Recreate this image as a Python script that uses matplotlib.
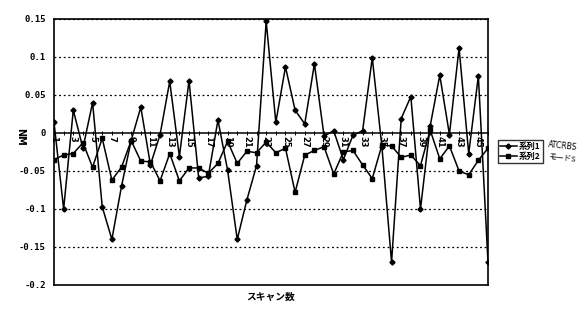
import numpy as np
import matplotlib
matplotlib.use("Agg")
from matplotlib import pyplot as plt

plt.rcParams["font.family"] = ["DejaVu Sans", "Noto Sans CJK JP"]

# scan number 1..46, values in NM
scans = list(range(1, 47))
series1 = [0.014, -0.1, 0.03, -0.02, 0.04, -0.097, -0.14, -0.07, -0.01, 0.034,
           -0.042, -0.002, 0.068, -0.031, 0.069, -0.059, -0.057, 0.017, -0.049, -0.14,
           -0.088, -0.043, 0.147, 0.014, 0.087, 0.03, 0.012, 0.091, -0.004, 0.003,
           -0.035, -0.003, 0.003, 0.099, -0.018, -0.17, 0.019, 0.048, -0.1, 0.009,
           0.076, -0.002, 0.112, -0.027, 0.075, -0.17]
series2 = [-0.035, -0.029, -0.027, -0.013, -0.045, -0.007, -0.062, -0.045, -0.01, -0.037,
           -0.038, -0.063, -0.027, -0.063, -0.046, -0.046, -0.053, -0.04, -0.011, -0.04,
           -0.024, -0.026, -0.012, -0.026, -0.02, -0.078, -0.029, -0.023, -0.018, -0.054,
           -0.025, -0.023, -0.042, -0.06, -0.016, -0.017, -0.032, -0.029, -0.043, 0.004,
           -0.034, -0.017, -0.05, -0.055, -0.036, -0.02]
yticks = [0.15, 0.1, 0.05, 0, -0.05, -0.1, -0.15, -0.2]
ytick_labels = ["0.15", "0.1", "0.05", "0", "-0.05", "-0.1", "-0.15", "-0.2"]
xtick_labels = scans[::2]

fig = plt.figure(figsize=(5.84, 3.10), dpi=100)
ax = fig.add_axes([54 / 584, 25 / 310, 434 / 584, 266 / 310])

# dotted grid every 0.05, solid zero line
for y in yticks:
    if y != 0:
        ax.axhline(y, color="black", lw=0.9, ls=(0, (1.5, 2.2)), zorder=1)
ax.axhline(0, color="black", lw=1.1, zorder=2)
ax.plot(scans, [0] * len(scans), ls="none", marker="|", ms=3, mew=0.7, color="black", zorder=2)

ax.plot(scans, series1, "-", color="black", lw=1.1, marker="D", ms=2.6, label="系列1", zorder=3)
ax.plot(scans, series2, "-", color="black", lw=1.1, marker="s", ms=2.8, label="系列2", zorder=3)

# category labels sit on the zero line, rotated
for x in xtick_labels:
    ax.text(x, -0.004, str(x), rotation=-90, ha="center", va="top",
            fontsize=6, fontweight="bold", zorder=4)

ax.set_xlim(1, 46)
ax.set_ylim(-0.2, 0.15)
ax.set_xticks([])
ax.set_yticks(yticks)
ax.set_yticklabels(ytick_labels, fontsize=6.5, fontweight="bold", family="DejaVu Sans Mono")
ax.tick_params(axis="y", length=0, pad=6)
for s in ax.spines.values():
    s.set_linewidth(1.2)

fig.text(20 / 584, 1 - 137 / 310, "NM", rotation=-90, ha="center", va="center",
         fontsize=7, fontweight="bold")
fig.text(271 / 584, 1 - 297 / 310, "スキャン数", ha="center", va="center",
         fontsize=7, fontweight="bold", family=["Noto Sans CJK JP"])

leg = ax.legend(loc="center left", bbox_to_anchor=(498 / 584, 1 - 151.5 / 310),
                bbox_transform=fig.transFigure, fontsize=6, frameon=True, fancybox=False,
                edgecolor="black", handlelength=2.0, handletextpad=0.3,
                borderpad=0.25, labelspacing=0.2, borderaxespad=0,
                prop={"family": ["Noto Sans CJK JP"], "size": 6, "weight": "bold"})
leg.get_frame().set_linewidth(1.0)

# handwritten annotations next to the legend
fig.text(548 / 584, 1 - 146 / 310, "ATCRBS", fontsize=5.5, rotation=-6, va="center")
fig.text(548 / 584, 1 - 158 / 310, "モードS", fontsize=5.5, rotation=-6, va="center",
         family=["Noto Sans CJK JP"])

fig.savefig("out.png", dpi=100)
